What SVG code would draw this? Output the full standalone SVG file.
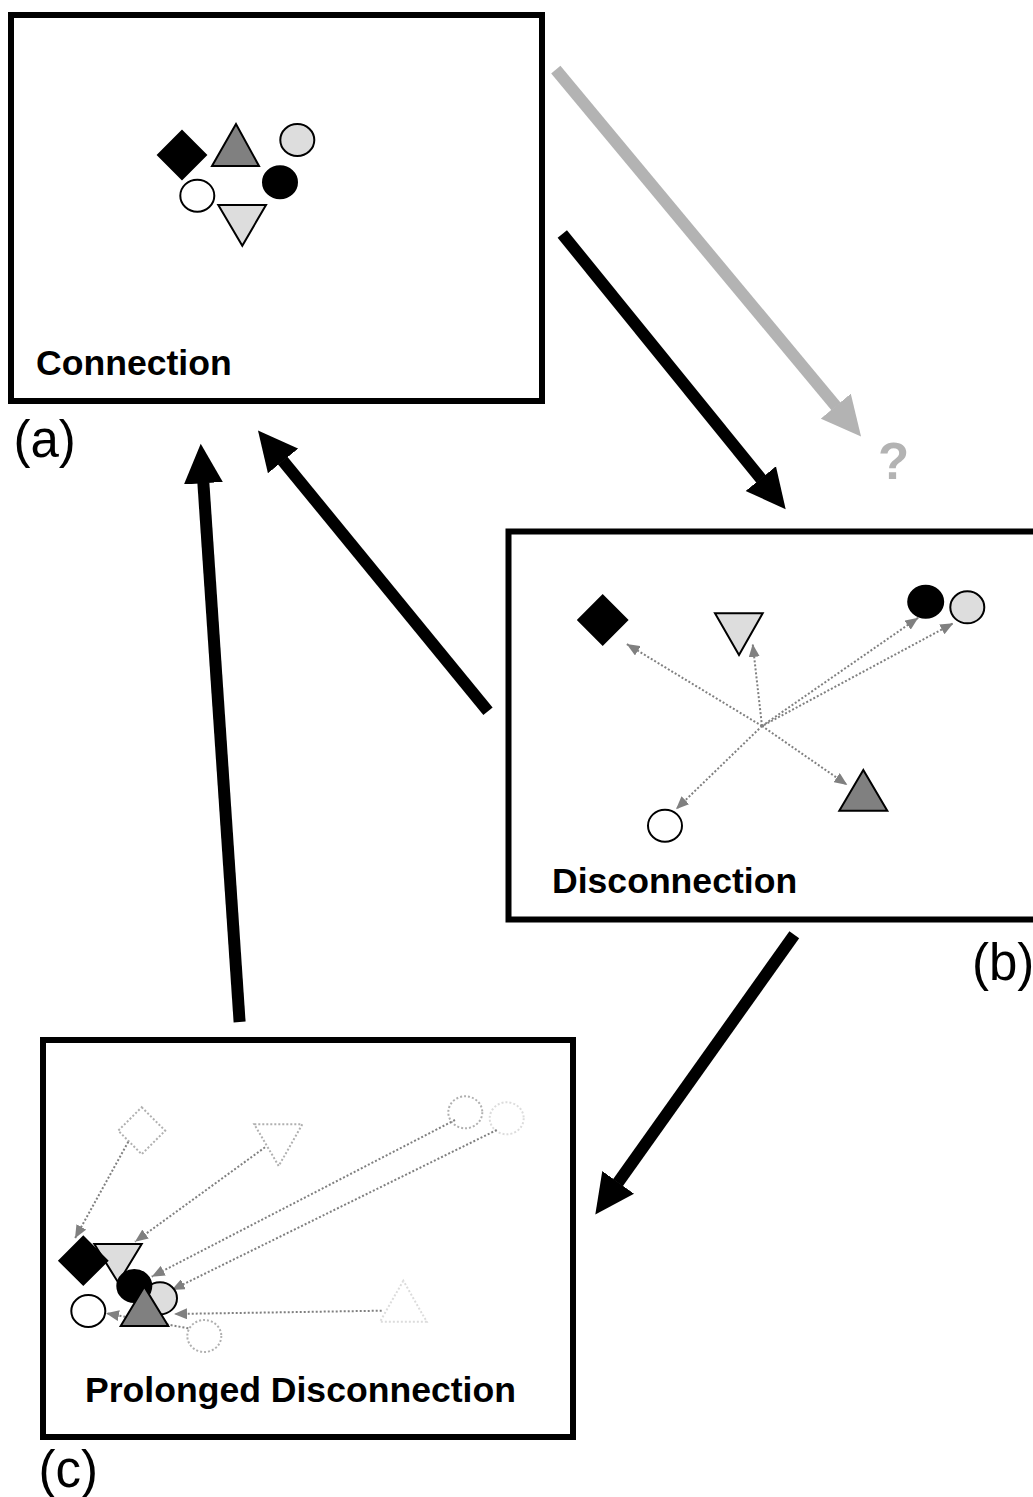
<svg xmlns="http://www.w3.org/2000/svg" width="1033" height="1497" viewBox="0 0 1033 1497">
<style>
.box{fill:none;stroke:#000;stroke-width:6}
.lbl{font-family:"Liberation Sans",Arial,sans-serif;font-weight:bold;font-size:35.6px;fill:#000}
.tag{font-family:"Liberation Sans",Arial,sans-serif;font-size:51px;fill:#000}
.q{font-family:"Liberation Sans",Arial,sans-serif;font-weight:bold;font-size:51px;fill:#b3b3b3}
.blk{fill:#000;stroke:#000;stroke-width:2}
.gry{fill:#808080;stroke:#000;stroke-width:2}
.lgt{fill:#dddddd;stroke:#000;stroke-width:2}
.wht{fill:#fff;stroke:#000;stroke-width:2}
.ghost{fill:none;stroke:#b0b0b0;stroke-width:2;stroke-dasharray:2 2}
.ghost2{fill:none;stroke:#dcdcdc;stroke-width:2;stroke-dasharray:2 2}
.big{fill:none;stroke:#000;stroke-width:12;marker-end:url(#headB)}
.bigg{fill:none;stroke:#b3b3b3;stroke-width:12;marker-end:url(#headG)}
.dot{fill:none;stroke:#808080;stroke-width:2;stroke-dasharray:2 2;marker-end:url(#headS)}
</style>
<defs>
<marker id="headB" markerUnits="userSpaceOnUse" markerWidth="40" markerHeight="40" viewBox="0 0 40 40" refX="0.5" refY="20" orient="auto"><path d="M0,0.5 L39.5,20 L0,39.5 Z" fill="#000"/></marker>
<marker id="headG" markerUnits="userSpaceOnUse" markerWidth="40" markerHeight="40" viewBox="0 0 40 40" refX="0.5" refY="20" orient="auto"><path d="M0,0.5 L39.5,20 L0,39.5 Z" fill="#b3b3b3"/></marker>
<marker id="headS" markerUnits="userSpaceOnUse" markerWidth="13" markerHeight="11" viewBox="0 0 13 11" refX="13" refY="5.5" orient="auto"><path d="M0,0 L13,5.5 L0,11 Z" fill="#808080"/></marker>
</defs>
<rect width="1033" height="1497" fill="#fff"/>

<g id="node-a">
<rect class="box" x="11" y="15" width="531" height="386"/>
<polygon class="blk" points="182,131 206,155 182,179 158,155"/>
<polygon class="gry" points="236,124 212,166 259,166"/>
<ellipse class="lgt" cx="297.3" cy="140" rx="17" ry="16"/>
<ellipse class="blk" cx="280" cy="182.3" rx="17" ry="16"/>
<ellipse class="wht" cx="197.3" cy="195.7" rx="17" ry="16"/>
<polygon class="lgt" points="218.3,205 266,205 242.3,245.7"/>
<text class="lbl" x="36" y="375">Connection</text>
<text class="tag" x="13.5" y="457">(a)</text>
</g>

<g id="node-b">
<rect class="box" x="508.5" y="531.5" width="540" height="388"/>
<g id="b-links">
<line class="dot" x1="762" y1="726" x2="626.7" y2="644"/>
<line class="dot" x1="762" y1="726" x2="752.7" y2="644"/>
<line class="dot" x1="762" y1="726" x2="918.3" y2="617.7"/>
<line class="dot" x1="764" y1="725" x2="953.3" y2="623.3"/>
<line class="dot" x1="762" y1="726" x2="676" y2="809.3"/>
<line class="dot" x1="762" y1="726" x2="847.3" y2="785"/>
</g>
<polygon class="blk" points="602.7,595.5 627.2,620 602.7,644.5 578.2,620"/>
<polygon class="lgt" points="715,613.3 762.7,613.3 739,655"/>
<ellipse class="blk" cx="925.7" cy="601.7" rx="17.5" ry="16"/>
<ellipse class="lgt" cx="967.3" cy="607.3" rx="17" ry="16"/>
<polygon class="gry" points="863.3,770 839.3,810.7 887.3,810.7"/>
<ellipse class="wht" cx="665" cy="825.7" rx="17" ry="16"/>
<text class="lbl" x="552" y="893">Disconnection</text>
<text class="tag" x="972" y="980">(b)</text>
</g>

<g id="node-c">
<rect class="box" x="43" y="1040" width="530" height="397"/>
<polygon class="ghost" points="141.7,1107.2 165.2,1130.7 141.7,1154.2 118.2,1130.7"/>
<polygon class="ghost" points="254.3,1124.3 302.3,1124.3 278.7,1166"/>
<ellipse class="ghost" cx="465.3" cy="1112.3" rx="17" ry="16"/>
<ellipse class="ghost2" cx="506.7" cy="1118.3" rx="17" ry="16"/>
<polygon class="ghost2" points="403.3,1280.7 380,1321.7 426.7,1321.7"/>
<ellipse class="ghost" cx="204.3" cy="1336" rx="17" ry="16"/>
<g id="c-links">
<line class="dot" x1="128.3" y1="1141.7" x2="75" y2="1238.3"/>
<line class="dot" x1="265" y1="1147.3" x2="135" y2="1241.7"/>
<line class="dot" x1="455" y1="1120" x2="151.7" y2="1276.7"/>
<line class="dot" x1="496.7" y1="1130" x2="171.7" y2="1290"/>
<line class="dot" x1="381.7" y1="1310.7" x2="174" y2="1314"/>
<line class="dot" x1="188.3" y1="1328.3" x2="106" y2="1313.3"/>
</g>
<polygon class="lgt" points="94.3,1244 141.7,1244 118.3,1282.7"/>
<polygon class="blk" points="83.3,1236.7 107.3,1260.7 83.3,1284.7 59.3,1260.7"/>
<ellipse class="lgt" cx="160" cy="1298.3" rx="17" ry="16"/>
<ellipse class="blk" cx="134.3" cy="1286" rx="17" ry="16"/>
<polygon class="gry" points="144.3,1286.7 120.7,1326 168.3,1326"/>
<ellipse class="wht" cx="88.3" cy="1311" rx="17" ry="16"/>
<text class="lbl" x="85" y="1401.7">Prolonged Disconnection</text>
<text class="tag" x="38.5" y="1487">(c)</text>
</g>

<g id="unknown">
<text class="q" x="878" y="479">?</text>
</g>

<g id="connectors">
<line class="bigg" x1="555.8" y1="69.7" x2="836.1" y2="406.5"/>
<line class="big" x1="562.3" y1="234" x2="761.1" y2="479"/>
<line class="big" x1="488" y1="711.3" x2="282.7" y2="460.6"/>
<line class="big" x1="239.6" y1="1022" x2="203.35" y2="482.7"/>
<line class="big" x1="794.3" y1="934.7" x2="617.9" y2="1182.8"/>
</g>
</svg>
